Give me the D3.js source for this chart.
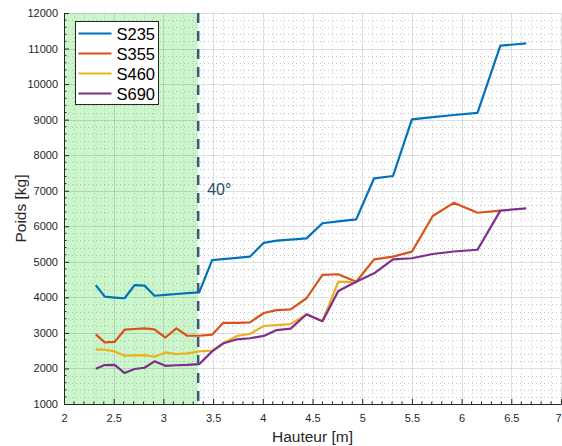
<!DOCTYPE html>
<html>
<head>
<meta charset="utf-8">
<script src="https://cdn.jsdelivr.net/npm/d3@7"></script>
<style>
  html, body { margin: 0; padding: 0; background: #fff; }
  svg { display: block; font-family: "Liberation Sans", Arial, Helvetica, sans-serif; }
</style>
</head>
<body>
<svg id="chart" width="562" height="446"></svg>
<script>
// Heights (m) at which each load was evaluated
const hauteur = [2.32, 2.41, 2.51, 2.61, 2.71, 2.81, 2.91, 3.02, 3.13, 3.24,
                 3.36, 3.49, 3.60, 3.74, 3.87, 4.01, 4.14, 4.28, 4.44, 4.60,
                 4.76, 4.94, 5.12, 5.31, 5.50, 5.71, 5.92, 6.16, 6.39, 6.65];

// Weight (kg) per steel grade
const s235 = [4340, 4020, 3995, 3975, 4345, 4330, 4045, 4070, 4095, 4120,
              4140, 5050, 5075, 5110, 5145, 5535, 5595, 5625, 5660, 6085,
              6140, 6195, 7350, 7415, 9010, 9070, 9130, 9190, 11080, 11145];
const s355 = [2960, 2735, 2750, 3090, 3110, 3130, 3100, 2870, 3130, 2920,
              2920, 2950, 3280, 3280, 3295, 3560, 3640, 3660, 3975, 4630,
              4650, 4440, 5070, 5145, 5285, 6290, 6660, 6380, 6440];
const s460 = [2530, 2530, 2480, 2360, 2370, 2375, 2330, 2450, 2405, 2425,
              2480, 2500, 2710, 2915, 2970, 3195, 3220, 3250, 3520, 3330,
              4440, 4430];
const s690 = [1990, 2095, 2100, 1870, 1985, 2020, 2200, 2075, 2090, 2100,
              2120, 2480, 2700, 2820, 2850, 2915, 3080, 3120, 3525, 3330,
              4180, 4440, 4675, 5070, 5100, 5220, 5290, 5340, 6440, 6505];

const seriesNames = ["S235", "S355", "S460", "S690"];
const seriesValues = [s235, s355, s460, s690];
const seriesColors = ["#0072BD", "#D95319", "#EDB120", "#7E2F8E"];

const xTicks = [2, 2.5, 3, 3.5, 4, 4.5, 5, 5.5, 6, 6.5, 7];
const yTicks = [1000, 2000, 3000, 4000, 5000, 6000, 7000, 8000, 9000, 10000, 11000, 12000];

// Zone limit (40° angle) and its label
const limiteHauteur = 3.35;
const limiteLabel = "40°";

const svg = d3.select("#chart");
const x = d3.scaleLinear().domain([2, 7]).range([64, 561]);
const y = d3.scaleLinear().domain([1000, 12000]).range([404, 13]);

const [x0, x1] = x.range();
const [y0, y1] = y.range();

// Shaded zone left of the limit
svg.append("rect")
  .attr("x", x(2)).attr("y", y1)
  .attr("width", x(limiteHauteur) - x(2)).attr("height", y0 - y1)
  .attr("fill", "#cbf6cb");

// Minor grid (dotted)
const xMinor = d3.range(2, 7.0001, 0.1).filter(v => Math.abs(v * 2 - Math.round(v * 2)) > 1e-6);
const yMinor = d3.range(1000, 12001, 200).filter(v => v % 1000 !== 0);
const grid = svg.append("g");
grid.selectAll(".mx").data(xMinor).join("line")
  .attr("x1", d => Math.round(x(d)) + 0.5).attr("x2", d => Math.round(x(d)) + 0.5)
  .attr("y1", y1).attr("y2", y0)
  .attr("stroke", "#9a9a9a").attr("stroke-opacity", 0.55)
  .attr("stroke-width", 1).attr("stroke-dasharray", "1,3");
grid.selectAll(".my").data(yMinor).join("line")
  .attr("x1", x0).attr("x2", x1)
  .attr("y1", d => Math.round(y(d)) + 0.5).attr("y2", d => Math.round(y(d)) + 0.5)
  .attr("stroke", "#9a9a9a").attr("stroke-opacity", 0.55)
  .attr("stroke-width", 1).attr("stroke-dasharray", "1,3");

// Major grid
grid.selectAll(".gx").data(xTicks).join("line")
  .attr("x1", d => Math.round(x(d)) + 0.5).attr("x2", d => Math.round(x(d)) + 0.5)
  .attr("y1", y1).attr("y2", y0)
  .attr("stroke", "#262626").attr("stroke-opacity", 0.15).attr("stroke-width", 1);
grid.selectAll(".gy").data(yTicks).join("line")
  .attr("x1", x0).attr("x2", x1)
  .attr("y1", d => Math.round(y(d)) + 0.5).attr("y2", d => Math.round(y(d)) + 0.5)
  .attr("stroke", "#262626").attr("stroke-opacity", 0.15).attr("stroke-width", 1);

// Axes with inward ticks
const xAxis = svg.append("g").attr("transform", `translate(0,${y0})`)
  .call(d3.axisBottom(x).tickValues(xTicks).tickSize(-5).tickPadding(10)
    .tickFormat(d3.format("~g")));
const yAxis = svg.append("g").attr("transform", `translate(${x0},0)`)
  .call(d3.axisLeft(y).tickValues(yTicks).tickSize(-5).tickPadding(6)
    .tickFormat(d3.format("d")));
[xAxis, yAxis].forEach(g => {
  g.select(".domain").attr("stroke", "#262626").attr("stroke-width", 1);
  g.selectAll(".tick line").attr("stroke", "#262626");
  g.selectAll(".tick text").attr("fill", "#262626")
    .style("font-size", "11px")
    .style("font-family", '"Liberation Sans", Arial, sans-serif');
});
// keep the last x label inside the frame
xAxis.selectAll(".tick text").filter(d => d === 7).attr("dx", "-3");

// Minor ticks
svg.append("g").selectAll("line").data(xMinor).join("line")
  .attr("x1", d => x(d)).attr("x2", d => x(d))
  .attr("y1", y0).attr("y2", y0 - 2.5)
  .attr("stroke", "#262626");
svg.append("g").selectAll("line").data(yMinor).join("line")
  .attr("x1", x0).attr("x2", x0 + 2.5)
  .attr("y1", d => y(d)).attr("y2", d => y(d))
  .attr("stroke", "#262626");

// Data lines
const line = d3.line()
  .x((d, i) => x(hauteur[i]))
  .y(d => y(d));
svg.append("g").selectAll("path").data(seriesValues).join("path")
  .attr("d", d => line(d))
  .attr("fill", "none")
  .attr("stroke", (d, i) => seriesColors[i])
  .attr("stroke-width", 2.2)
  .attr("stroke-linejoin", "round");

// Limit line and label
svg.append("line")
  .attr("x1", x(limiteHauteur)).attr("x2", x(limiteHauteur))
  .attr("y1", y1).attr("y2", y0)
  .attr("stroke", "#3a5a7a").attr("stroke-width", 2.5)
  .attr("stroke-dasharray", "10,8");
svg.append("text")
  .attr("x", x(limiteHauteur) + 9).attr("y", y(7000) + 4)
  .attr("fill", "#2d4a6a")
  .style("font-size", "16px")
  .text(limiteLabel);

// Axis titles
svg.append("text")
  .attr("x", (x0 + x1) / 2).attr("y", 442)
  .attr("text-anchor", "middle").attr("fill", "#262626")
  .style("font-size", "15.5px")
  .text("Hauteur [m]");
svg.append("text")
  .attr("transform", `translate(26,${(y0 + y1) / 2}) rotate(-90)`)
  .attr("text-anchor", "middle").attr("fill", "#262626")
  .style("font-size", "15.5px")
  .text("Poids [kg]");

// Legend
const leg = svg.append("g").attr("transform", "translate(75.5,21.5)");
leg.append("rect")
  .attr("width", 83).attr("height", 83)
  .attr("fill", "#fff").attr("stroke", "#262626").attr("stroke-width", 1);
const items = leg.selectAll(".item").data(seriesNames).join("g")
  .attr("transform", (d, i) => `translate(0,${12 + i * 20})`);
items.append("line")
  .attr("x1", 3).attr("x2", 36)
  .attr("stroke", (d, i) => seriesColors[i]).attr("stroke-width", 2.2);
items.append("text")
  .attr("x", 41).attr("y", 6)
  .attr("fill", "#000")
  .style("font-size", "16.5px")
  .text(d => d);
</script>
</body>
</html>
